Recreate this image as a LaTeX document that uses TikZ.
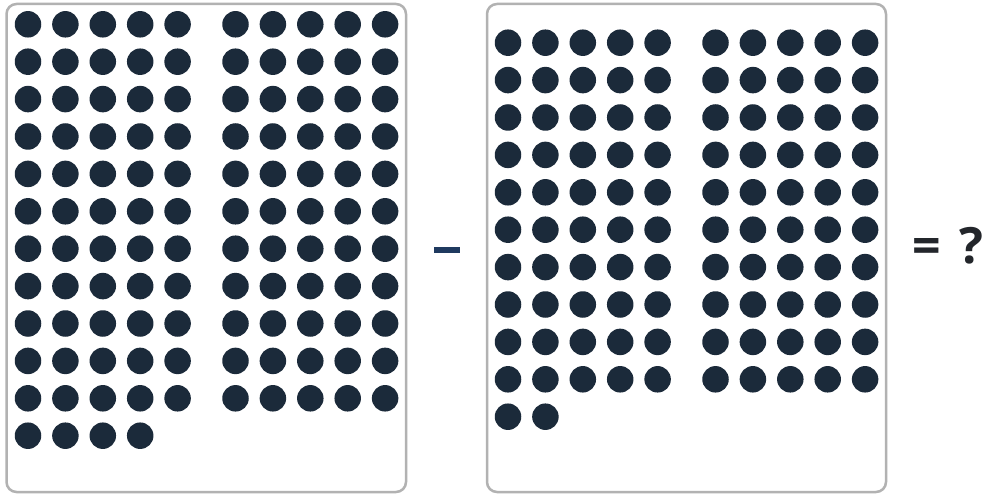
\documentclass[tikz,border=0pt]{standalone}
\usepackage{fontspec}
\setmainfont{Open Sans}
\begin{document}
\begin{tikzpicture}[x=1pt,y=-1pt,
  panel/.style={draw=black!30,line width=2.5pt,rounded corners=10pt,fill=white},
  dot/.style={circle,fill=dotc,inner sep=0pt,minimum size=26.5pt},
  optxt/.style={font=\bfseries\fontsize{50}{50}\selectfont,text=opc,inner sep=0pt,anchor=base}]
\definecolor{dotc}{HTML}{1B2A3A}
\definecolor{minc}{HTML}{1F3A5F}
\definecolor{opc}{HTML}{23262B}
\useasboundingbox (0,0) rectangle (987,494);
\fill[white] (0,0) rectangle (987,494);
% panels
\draw[panel] (6.5,4) rectangle (406,492) node[pos=0,anchor=north west,inner sep=0pt] (leftpanel) {};
\draw[panel] (487,4) rectangle (886,492) node[pos=0,anchor=north west,inner sep=0pt] (rightpanel) {};
% left dots: 11 full rows of 10 + 4
\foreach \r in {0,...,10}{
  \foreach \c in {0,...,4}{
    \node[dot] (la-\r-\c) at ({28+37.4*\c},{24.3+37.4*\r}) {};
    \node[dot] (lb-\r-\c) at ({235.5+37.4*\c},{24.3+37.4*\r}) {};
  }
}
\foreach \c in {0,...,3}{
  \node[dot] (la-11-\c) at ({28+37.4*\c},{24.3+37.4*11}) {};
}
% right dots: 10 full rows of 10 + 2
\foreach \r in {0,...,9}{
  \foreach \c in {0,...,4}{
    \node[dot] (ra-\r-\c) at ({508+37.4*\c},{42.7+37.4*\r}) {};
    \node[dot] (rb-\r-\c) at ({715.5+37.4*\c},{42.7+37.4*\r}) {};
  }
}
\foreach \c in {0,...,1}{
  \node[dot] (ra-10-\c) at ({508+37.4*\c},{42.7+37.4*10}) {};
}
% minus sign
\fill[minc] (434,247) rectangle (460,253);
\node[coordinate] (minus) at (447,250) {};
% equals question
\node[optxt] (eq) at (926.5,264) {=};
\node[optxt] (qm) at (971,264) {?};
\end{tikzpicture}
\end{document}
